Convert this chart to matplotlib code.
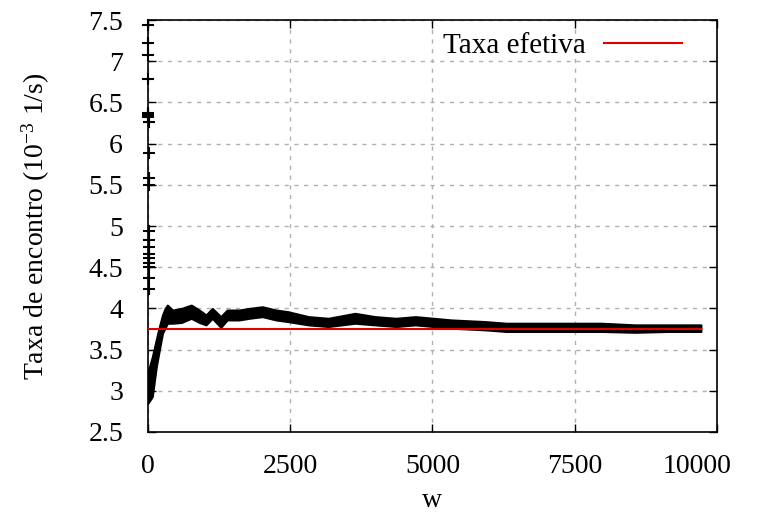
import numpy as np
import matplotlib
matplotlib.use('Agg')
import matplotlib.pyplot as plt
import matplotlib.transforms as mtransforms

plt.rcParams['font.family'] = ['Liberation Serif', 'DejaVu Serif']
plt.rcParams['mathtext.fontset'] = 'custom'
plt.rcParams['mathtext.rm'] = 'Liberation Serif'
plt.rcParams['mathtext.it'] = 'Liberation Serif:italic'

w_faixa = [0, 75, 145, 200, 255, 300, 340, 430, 590, 760, 900, 1020, 1130, 1280,
           1390, 1600, 1780, 2010, 2250, 2460, 2820, 3170, 3640, 3990, 4360, 4700,
           5330, 5920, 6300, 6980, 7510, 7970, 8560, 9150, 9720]
taxa_sup = [3.23, 3.41, 3.62, 3.78, 3.92, 4.00, 4.04, 3.98, 4.00, 4.04, 3.98, 3.92, 4.00, 3.90,
            3.98, 3.98, 4.00, 4.02, 3.98, 3.96, 3.90, 3.88, 3.94, 3.90, 3.88, 3.90,
            3.86, 3.84, 3.82, 3.82, 3.82, 3.82, 3.80, 3.80, 3.80]
taxa_inf = [2.85, 2.93, 3.29, 3.50, 3.70, 3.76, 3.82, 3.82, 3.83, 3.88, 3.83, 3.80, 3.88, 3.77,
            3.86, 3.86, 3.88, 3.90, 3.86, 3.84, 3.80, 3.78, 3.82, 3.80, 3.78, 3.80,
            3.76, 3.74, 3.72, 3.72, 3.72, 3.72, 3.71, 3.72, 3.72]

# pontos isolados do inicio (w pequeno)
w_inicio = [3, 4, 5, 6, 7, 8, 8, 9, 10, 11, 12, 13, 14, 15, 16, 17, 18, 19, 21, 23]
taxa_inicio = [7.44, 7.22, 7.08, 6.78, 6.37, 6.35, 6.32, 6.26, 5.89, 5.58, 5.50, 4.94,
               4.83, 4.75, 4.66, 4.61, 4.55, 4.50, 4.37, 4.24]

w_efetiva = [0, 9720]
taxa_efetiva = [3.75, 3.75]

fig = plt.figure(figsize=(7.61, 5.24), dpi=100)
ax = fig.add_axes([0.1945, 0.1756, 0.7475, 0.7862])

ax.fill_between(w_faixa, taxa_inf, taxa_sup, color='black', lw=1.5, edgecolor='black', zorder=2)
ax.plot(w_inicio, taxa_inicio, '+', color='black', ms=8, mew=1.5, clip_on=False, zorder=3)
ax.plot(w_efetiva, taxa_efetiva, color='#e00000', lw=1.5, label='Taxa efetiva', zorder=4)

ax.set_xlim(0, 10000)
ax.set_ylim(2.5, 7.5)
ax.set_xticks([0, 2500, 5000, 7500, 10000])
ax.set_yticks(np.arange(2.5, 7.51, 0.5))
ax.set_yticklabels(['2.5', '3', '3.5', '4', '4.5', '5', '5.5', '6', '6.5', '7', '7.5'])
ax.tick_params(direction='in', length=6, width=1, top=True, right=True, labelsize=20)
ax.tick_params(axis='x', pad=16)
ax.tick_params(axis='y', pad=18)
ax.grid(True, color='#b0b0b0', linestyle=(0, (3, 4)), lw=1)
for s in ax.spines.values():
    s.set_linewidth(1.2)

# ultimo rotulo do eixo x deslocado para dentro, como no original
ultimo = ax.get_xticklabels()[-1]
ultimo.set_transform(ultimo.get_transform() + mtransforms.ScaledTranslation(-0.2, 0, fig.dpi_scale_trans))

ax.set_xlabel('w', fontsize=20, labelpad=6)
ax.set_ylabel('Taxa de encontro (10$^{-3}$ 1/s)', fontsize=20, labelpad=26)

leg = ax.legend(loc='upper right', bbox_to_anchor=(0.96, 0.997), frameon=False, fontsize=21,
                markerfirst=False, handlelength=2.7, borderaxespad=0.0, handletextpad=0.6)

fig.savefig('out.png', dpi=100)
